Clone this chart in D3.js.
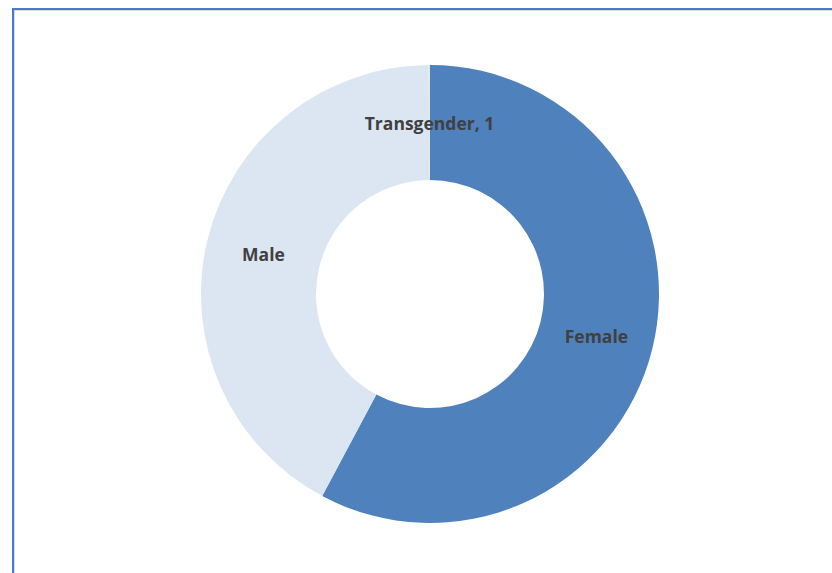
<!DOCTYPE html>
<html>
<head>
<meta charset="utf-8">
<script src="https://cdn.jsdelivr.net/npm/d3@7"></script>
<style>
  html, body { margin: 0; padding: 0; background: #fff; }
  svg { display: block; }
</style>
</head>
<body>
<svg id="chart"></svg>
<script>
const categories = ["Female", "Male", "Transgender"];
const counts = [578, 421, 1];
const labels = ["Female", "Male", "Transgender, 1"];
const colors = ["#4F81BD", "#DCE6F2", "#DCE6F2"];

const width = 832, height = 573;
const svg = d3.select("#chart").attr("width", width).attr("height", height);

// chart frame
svg.append("rect")
  .attr("x", 14).attr("y", 10)
  .attr("width", width).attr("height", height)
  .attr("fill", "none").attr("stroke", "#d9d9d9").attr("stroke-width", 2);
svg.append("rect")
  .attr("x", 13).attr("y", 9)
  .attr("width", width).attr("height", height)
  .attr("fill", "none").attr("stroke", "#4A7AD0").attr("stroke-width", 2);

const cx = 430, cy = 294;
const outer = 229, inner = 114;

const pie = d3.pie().sort(null).value(d => d.value);
const arc = d3.arc().innerRadius(inner).outerRadius(outer);
const labelArc = d3.arc().innerRadius((inner + outer) / 2).outerRadius((inner + outer) / 2);

const data = categories.map((c, i) => ({ name: c, value: counts[i], label: labels[i], color: colors[i] }));
const arcs = pie(data);

const g = svg.append("g").attr("transform", "translate(" + cx + "," + cy + ")");

g.selectAll("path.slice")
  .data(arcs)
  .enter()
  .append("path")
  .attr("class", "slice")
  .attr("d", arc)
  .attr("fill", d => d.data.color);

g.selectAll("text.lbl")
  .data(arcs)
  .enter()
  .append("text")
  .attr("class", "lbl")
  .attr("transform", d => {
    const c = labelArc.centroid(d);
    return "translate(" + c[0] + "," + c[1] + ")";
  })
  .attr("text-anchor", "middle")
  .attr("dy", "0.45em")
  .attr("font-family", "'Open Sans', sans-serif")
  .attr("font-weight", "bold")
  .attr("font-size", 17.5)
  .attr("fill", "#404040")
  .text(d => d.data.label);
</script>
</body>
</html>
